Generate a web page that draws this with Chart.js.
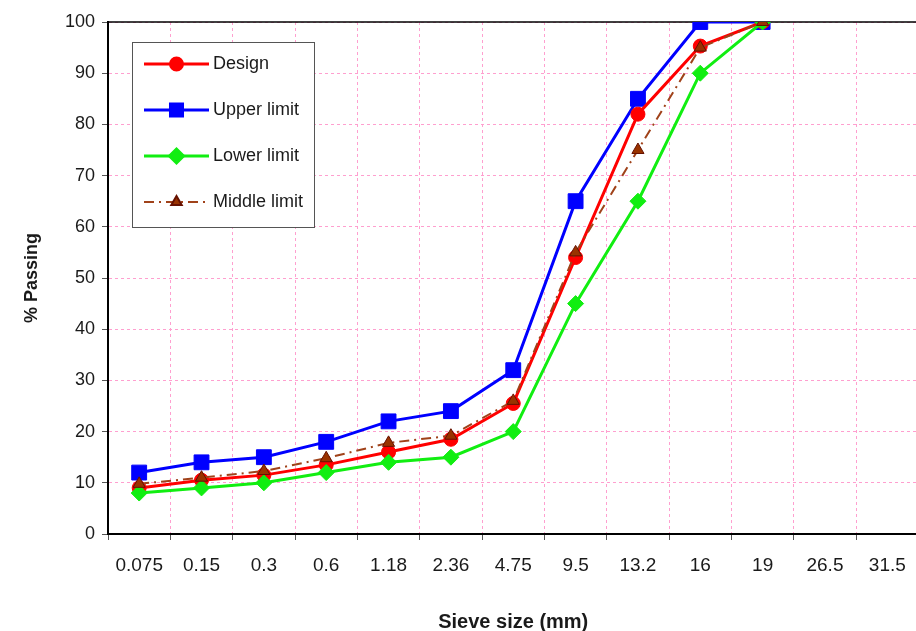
<!DOCTYPE html>
<html>
<head>
<meta charset="utf-8">
<script src="https://cdn.jsdelivr.net/npm/chart.js@4.4.1/dist/chart.umd.min.js"></script>
<style>
  html, body { margin: 0; padding: 0; overflow: hidden; background: #fff; }
  #wrap { width: 930px; height: 631px; }
</style>
</head>
<body>
<div id="wrap"><canvas id="gradationChart" width="930" height="631"></canvas></div>
<script>
const sieveSizes = ['0.075', '0.15', '0.3', '0.6', '1.18', '2.36', '4.75', '9.5', '13.2', '16', '19', '26.5', '31.5'];
const designPassing = [9, 10.5, 11.5, 13.5, 16, 18.5, 25.5, 54, 82, 95.3, 100];
const upperLimit = [12, 14, 15, 18, 22, 24, 32, 65, 85, 100, 100];
const lowerLimit = [8, 9, 10, 12, 14, 15, 20, 45, 65, 90, 100];
const middleLimit = [9.8, 11, 12.3, 14.8, 17.8, 19.2, 26, 55, 75, 95, 100];

const FONT = "'Liberation Sans', Arial, sans-serif";
const PINK = '#ff9fcf';

// legend drawn inside the plot, like the original
const legendBox = {
  id: 'legendBox',
  afterDatasetsDraw(chart) {
    const ctx = chart.ctx;
    const a = chart.chartArea;
    const bx = a.left + 24, by = a.top + 20, bw = 182, bh = 185;
    ctx.save();
    ctx.fillStyle = '#fff';
    ctx.fillRect(bx, by, bw, bh);
    ctx.strokeStyle = '#555';
    ctx.lineWidth = 1;
    ctx.strokeRect(bx + 0.5, by + 0.5, bw, bh);

    const legendRadius = [6, 8.5, 7, 6];
    chart.data.datasets.forEach((ds, i) => {
      const y = by + 22 + i * 46;
      ctx.setLineDash(ds.borderDash || []);
      ctx.strokeStyle = ds.borderColor;
      ctx.lineWidth = ds.borderWidth;
      ctx.beginPath();
      ctx.moveTo(bx + 12, y);
      ctx.lineTo(bx + 77, y);
      ctx.stroke();
      ctx.setLineDash([]);
      ctx.fillStyle = ds.pointBackgroundColor;
      ctx.strokeStyle = ds.pointBorderColor;
      Chart.helpers.drawPoint(ctx, {
        pointStyle: ds.pointStyle,
        radius: legendRadius[i],
        rotation: 0,
        borderWidth: 1,
      }, bx + 44.5, y);
      ctx.fillStyle = '#1a1a1a';
      ctx.font = '18px ' + FONT;
      ctx.textBaseline = 'middle';
      ctx.textAlign = 'left';
      ctx.fillText(ds.label, bx + 81, y);
    });
    ctx.restore();
  },
};

// black frame line along the top of the plot
const topFrame = {
  id: 'topFrame',
  beforeDatasetsDraw(chart) {
    const ctx = chart.ctx;
    const a = chart.chartArea;
    ctx.save();
    ctx.strokeStyle = '#000';
    ctx.lineWidth = 1.5;
    ctx.beginPath();
    ctx.moveTo(a.left, a.top);
    ctx.lineTo(a.right + 20, a.top);
    ctx.stroke();
    ctx.restore();
  },
};

new Chart(document.getElementById('gradationChart').getContext('2d'), {
  type: 'line',
  data: {
    labels: sieveSizes,
    datasets: [
      {
        label: 'Design',
        data: designPassing,
        borderColor: '#ff0000',
        backgroundColor: '#ff0000',
        borderWidth: 3,
        pointStyle: 'circle',
        pointRadius: 7,
        pointBackgroundColor: '#ff0000',
        pointBorderColor: '#ff0000',
        pointBorderWidth: 1,
        order: 2,
      },
      {
        label: 'Upper limit',
        data: upperLimit,
        borderColor: '#0000ff',
        backgroundColor: '#0000ff',
        borderWidth: 3,
        pointStyle: 'rect',
        pointRadius: 10.5,
        pointBackgroundColor: '#0000ff',
        pointBorderColor: '#0000ff',
        pointBorderWidth: 1,
        order: 3,
      },
      {
        label: 'Lower limit',
        data: lowerLimit,
        borderColor: '#11ee11',
        backgroundColor: '#11ee11',
        borderWidth: 3,
        pointStyle: 'rectRot',
        pointRadius: 8,
        pointBackgroundColor: '#11ee11',
        pointBorderColor: '#11ee11',
        pointBorderWidth: 1,
        order: 1,
      },
      {
        label: 'Middle limit',
        data: middleLimit,
        borderColor: '#a0421a',
        backgroundColor: '#993300',
        borderWidth: 2,
        borderDash: [10, 5, 2, 5],
        pointStyle: 'triangle',
        pointRadius: 7,
        pointBackgroundColor: '#993300',
        pointBorderColor: '#661100',
        pointBorderWidth: 1,
        order: 0,
      },
    ],
  },
  options: {
    responsive: false,
    animation: false,
    events: [],
    layout: { padding: { top: 22, left: 0, right: 9.5, bottom: 0 } },
    plugins: {
      legend: { display: false },
      tooltip: { enabled: false },
    },
    elements: { line: { tension: 0 } },
    scales: {
      x: {
        offset: true,
        grid: {
          offset: true,
          color: PINK,
          lineWidth: 1,
          tickLength: 6,
          tickColor: '#555',
          tickWidth: 1,
        },
        border: { display: true, color: '#000', width: 2, dash: [3, 3] },
        ticks: {
          color: '#1a1a1a',
          padding: 14,
          autoSkip: false,
          maxRotation: 0,
          font: { size: 19, family: FONT },
        },
        title: {
          display: true,
          text: 'Sieve size (mm)',
          color: '#1a1a1a',
          padding: { top: 0, bottom: -3 },
          font: { size: 20, weight: 'bold', family: FONT },
        },
        afterFit: s => { s.height = 97; },
      },
      y: {
        min: 0,
        max: 100,
        grid: {
          color: PINK,
          lineWidth: 1,
          tickLength: 6,
          tickColor: '#555',
          tickWidth: 1,
        },
        border: { display: true, color: '#000', width: 2, dash: [3, 3] },
        ticks: {
          stepSize: 10,
          color: '#1a1a1a',
          padding: 7,
          font: { size: 18, family: FONT },
        },
        title: {
          display: true,
          text: '% Passing',
          color: '#1a1a1a',
          padding: { top: 21, bottom: 0 },
          font: { size: 18, weight: 'bold', family: FONT },
        },
        afterFit: s => { s.width = 108; },
      },
    },
  },
  plugins: [topFrame, legendBox],
});
</script>
</body>
</html>
